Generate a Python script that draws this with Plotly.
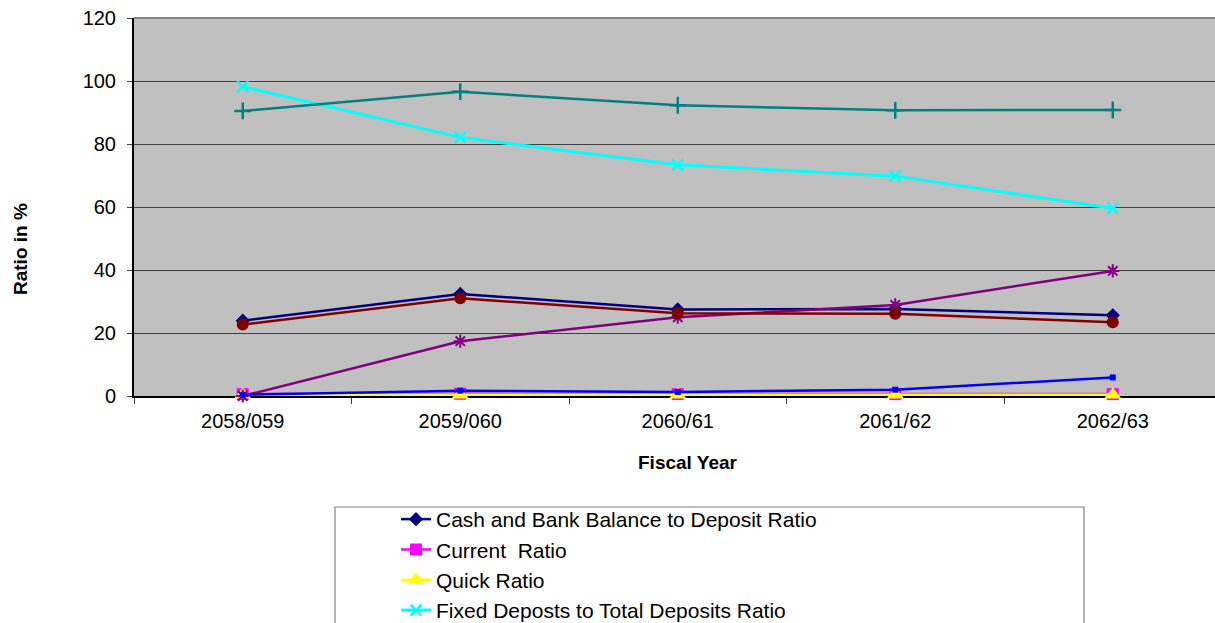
import plotly.graph_objects as go

# Fiscal years (Nepali calendar)
years = ["2058/059", "2059/060", "2060/61", "2061/62", "2062/63"]

# Liquidity ratios, in percent
cash_bank_to_deposit = [23.9, 32.4, 27.5, 27.6, 25.6]
current_ratio = [0.6, 0.7, 0.6, 0.6, 0.6]
quick_ratio = [0.4, 0.4, 0.4, 0.4, 0.4]
fixed_to_total_deposits = [98.2, 82.1, 73.4, 69.8, 59.6]
investment_to_deposits = [0.0, 17.4, 25.0, 28.9, 39.7]
cash_bank_to_current_assets = [22.7, 31.0, 26.3, 26.1, 23.4]
loans_to_deposits = [90.5, 96.6, 92.3, 90.7, 90.8]
govt_securities_to_current_assets = [0.4, 1.7, 1.3, 2.0, 5.9]

FONT = "Liberation Sans, Arial, sans-serif"

# name, values, colour, marker symbol, marker size, line width, marker outline, in legend
series = [
    ("Cash and Bank Balance to Deposit Ratio", cash_bank_to_deposit,
     "#000080", "diamond", 11, 2.5, None, True),
    ("Current  Ratio", current_ratio, "#FF00FF", "square", 12, 2.5, None, True),
    ("Quick Ratio", quick_ratio, "#FFFF00", "triangle-up", 15, 2.5, None, True),
    ("Fixed Deposts to Total Deposits Ratio", fixed_to_total_deposits,
     "#00FFFF", "x-thin-open", 11, 3, 2.5, True),
    ("Investment to Total Deposits Ratio", investment_to_deposits,
     "#800080", "asterisk-open", 11, 2.5, 2, False),
    ("Cash and Bank Balance to Current Assets Ratio", cash_bank_to_current_assets,
     "#800000", "circle", 12, 2.5, None, False),
    ("Loans and Advances to Total Deposits Ratio", loans_to_deposits,
     "#008080", "cross-thin-open", 12, 2.5, 2.5, False),
    ("Investment on Govt. Securities to Current Assets Ratio",
     govt_securities_to_current_assets, "#0000FF", "square", 6, 2.5, None, False),
]

fig = go.Figure()
for name, vals, color, symbol, msize, lw, mlw, in_legend in series:
    marker = dict(symbol=symbol, size=msize, color=color)
    if mlw is not None:
        marker["line"] = dict(color=color, width=mlw)
    fig.add_trace(go.Scatter(
        x=years, y=vals, name=name, mode="lines+markers",
        line=dict(color=color, width=lw), marker=marker,
        showlegend=in_legend, cliponaxis=False,
    ))

W, H = 1215, 623
L, T, B = 134, 18, 227
plot_w = W - L
plot_h = H - T - B


def px_x(p):
    return (p - L) / plot_w


def px_y(p):
    return (H - B - p) / plot_h


fig.update_layout(
    width=W, height=H,
    margin=dict(l=L, r=0, t=T, b=B, autoexpand=False),
    paper_bgcolor="white",
    plot_bgcolor="#C0C0C0",
    font=dict(family=FONT, color="black"),
    showlegend=True,
    legend=dict(
        x=px_x(396), y=px_y(499), xanchor="left", yanchor="top",
        bgcolor="rgba(0,0,0,0)", borderwidth=0,
        font=dict(family=FONT, size=21, color="black"),
        traceorder="normal",
    ),
    xaxis=dict(
        type="category", range=[-0.5, 4.47],
        showline=True, linecolor="black", linewidth=1.5,
        ticks="outside", tickson="boundaries", ticklen=6,
        tickcolor="#404040", showgrid=False, zeroline=False,
        ticklabelstandoff=6, layer="below traces",
        tickfont=dict(family=FONT, size=20, color="black"),
    ),
    yaxis=dict(
        range=[0, 120], dtick=20,
        showline=True, linecolor="black", linewidth=2,
        ticks="outside", ticklen=5, tickcolor="#404040",
        showgrid=True, gridcolor="#404040", gridwidth=1,
        zeroline=False, ticklabelstandoff=7, layer="below traces",
        tickfont=dict(family=FONT, size=20, color="black"),
    ),
    annotations=[
        dict(text="<b>Ratio in %</b>", xref="paper", yref="paper",
             x=px_x(20), y=px_y(249), xanchor="center", yanchor="middle",
             textangle=-90, showarrow=False,
             font=dict(family=FONT, size=19, color="black")),
        dict(text="<b>Fiscal Year</b>", xref="paper", yref="paper",
             x=px_x(688), y=px_y(462), xanchor="center", yanchor="middle",
             showarrow=False,
             font=dict(family=FONT, size=19, color="black")),
    ],
    shapes=[
        # plot-area top edge
        dict(type="line", xref="paper", yref="paper", x0=0, x1=1, y0=1, y1=1,
             line=dict(color="#808080", width=2)),
        # legend frame
        dict(type="rect", xref="paper", yref="paper",
             x0=px_x(335), x1=px_x(1084), y0=px_y(507), y1=px_y(720),
             line=dict(color="#808080", width=1.2), fillcolor="rgba(0,0,0,0)",
             layer="below"),
    ],
)

fig.write_html("out.html")
